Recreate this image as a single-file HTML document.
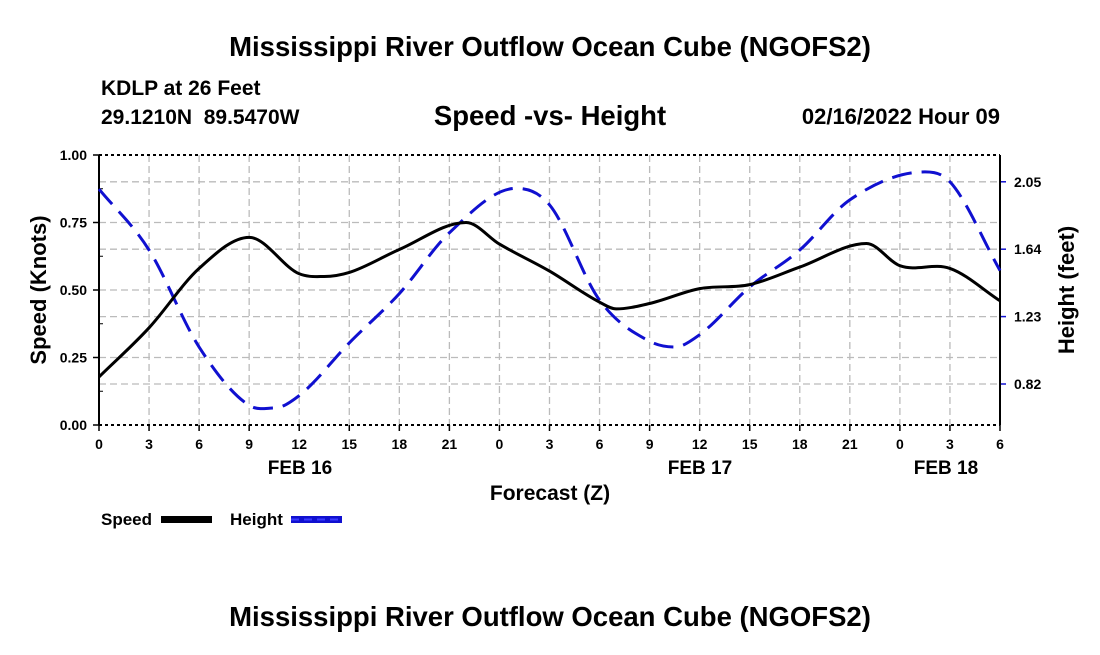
<!DOCTYPE html>
<html><head><meta charset="utf-8"><style>
body{margin:0;background:#fff;}
svg text{font-family:"Liberation Sans",Arial,sans-serif;font-weight:bold;fill:#000;white-space:pre;}
</style></head><body>
<svg id="chart" width="1100" height="650" viewBox="0 0 1100 650">
<text x="550" y="56" font-size="27.5" text-anchor="middle">Mississippi River Outflow Ocean Cube (NGOFS2)</text>
<text x="101" y="95" font-size="21">KDLP at 26 Feet</text>
<text x="101" y="124" font-size="21">29.1210N  89.5470W</text>
<text x="550" y="125" font-size="27.5" text-anchor="middle">Speed -vs- Height</text>
<text x="1000" y="124" font-size="22" text-anchor="end">02/16/2022 Hour 09</text>
<g id="grid"></g>
<g id="axes"></g>
<g id="series"></g>
<text x="46" y="290" font-size="22" text-anchor="middle" transform="rotate(-90 46 290)">Speed (Knots)</text>
<text x="1074" y="290" font-size="22" text-anchor="middle" transform="rotate(-90 1074 290)">Height (feet)</text>
<text x="550" y="500" font-size="21" text-anchor="middle">Forecast (Z)</text>
<text x="300" y="474" font-size="19" text-anchor="middle">FEB 16</text>
<text x="700" y="474" font-size="19" text-anchor="middle">FEB 17</text>
<text x="946" y="474" font-size="19" text-anchor="middle">FEB 18</text>
<g>
<text x="101" y="525" font-size="17">Speed</text>
<rect x="161" y="516" width="51" height="7" fill="#000"/>
<text x="230" y="525" font-size="17">Height</text>
<rect x="291" y="516" width="51" height="7" fill="#1010d0"/>
<line x1="291" y1="519.5" x2="342" y2="519.5" stroke="#3a3aff" stroke-width="2" stroke-dasharray="8,5"/>
</g>
<text x="550" y="626" font-size="27.5" text-anchor="middle">Mississippi River Outflow Ocean Cube (NGOFS2)</text>
</svg>
<script>
const hours=[0,3,6,9,12,15,18,21,24,27,30,33,36,39,42,45,48,51,54];
const tickLabels=["0","3","6","9","12","15","18","21","0","3","6","9","12","15","18","21","0","3","6"];
const speedTicks=[0,0.25,0.5,0.75,1.0];
const heightTicks=[0.82,1.23,1.64,2.05];
const speedHours=[0,3,6,9,12,13.5,15,18,22,24,27,30,31,33,36,39,42,46,48,51,54];
const speedVals=[0.178,0.36,0.58,0.695,0.56,0.55,0.565,0.65,0.75,0.67,0.57,0.455,0.43,0.45,0.505,0.52,0.585,0.672,0.59,0.58,0.46];
const heightHours=[0,3,6,9,10.5,12,15,18,21,25,27,30,33,34.5,36,39,42,45,49.5,51,54];
const heightVals=[2.006,1.635,1.045,0.69,0.674,0.75,1.07,1.37,1.74,2.01,1.91,1.33,1.08,1.045,1.12,1.41,1.635,1.94,2.11,2.05,1.51];

const L=99,R=1000,T=155,B=425;
const xs=h=>L+(R-L)*h/54;
const ys=v=>B-(B-T)*v;
const yh=v=>384-(v-0.82)*164.4;
const NS="http://www.w3.org/2000/svg";
function mk(tag,attrs,parent){const e=document.createElementNS(NS,tag);for(const k in attrs)e.setAttribute(k,attrs[k]);parent.appendChild(e);return e;}
const grid=document.getElementById('grid'),axes=document.getElementById('axes'),series=document.getElementById('series');
const gs={stroke:"#bbb","stroke-width":1.3,"stroke-dasharray":"7,4"};
hours.forEach((h,i)=>{
  if(i>0&&i<hours.length-1){const g=mk('line',Object.assign({x1:xs(h),x2:xs(h),y1:T,y2:B},gs),grid);
  
  }
  const t=mk('line',{x1:xs(h),x2:xs(h),y1:B,y2:B+6,stroke:"#000","stroke-width":1.5},axes);
  
  
  const lb=mk('text',{x:xs(h),y:B+24,"font-size":14,"text-anchor":"middle"},axes);lb.textContent=tickLabels[i];
  
  
});
speedTicks.forEach(v=>{
  if(v>0&&v<1){const g=mk('line',Object.assign({x1:L,x2:R,y1:ys(v),y2:ys(v)},gs),grid);
  
  }
  const t=mk('line',{x1:L-6,x2:L,y1:ys(v),y2:ys(v),stroke:"#000","stroke-width":1.5},axes);
  
  
  const lb=mk('text',{x:L-12,y:ys(v)+5,"font-size":14,"text-anchor":"end"},axes);lb.textContent=v.toFixed(2);
  
  
});
for(let v=0.125;v<1;v+=0.25){const t=mk('line',{x1:L,x2:L+4,y1:ys(v),y2:ys(v),stroke:"#000","stroke-width":1},axes);
  
  }
heightTicks.forEach(v=>{
  const g=mk('line',Object.assign({x1:L,x2:R,y1:yh(v),y2:yh(v)},gs),grid);
  
  
  const t=mk('line',{x1:R,x2:R+6,y1:yh(v),y2:yh(v),stroke:"#1010d0","stroke-width":1.5},axes);
  
  
  const lb=mk('text',{x:R+14,y:yh(v)+5,"font-size":14},axes);lb.textContent=v.toFixed(2);
  
  
});
[[L,T,R,T,"3,3"],[L,B,R,B,"3,3"]].forEach(a=>{const e=mk('line',{x1:a[0],y1:a[1],x2:a[2],y2:a[3],stroke:"#000","stroke-width":2,"stroke-dasharray":a[4]},axes);
  
  });
const la=mk('line',{x1:L,y1:T,x2:L,y2:B,stroke:"#000","stroke-width":2},axes);


const ra=mk('line',{x1:R,y1:T,x2:R,y2:B,stroke:"#000","stroke-width":2},axes);


function smooth(pts){
  const n=pts.length,m=[];
  for(let i=0;i<n;i++){
    if(i===0)m.push((pts[1][1]-pts[0][1])/(pts[1][0]-pts[0][0]));
    else if(i===n-1)m.push((pts[n-1][1]-pts[n-2][1])/(pts[n-1][0]-pts[n-2][0]));
    else{const a=(pts[i][1]-pts[i-1][1])/(pts[i][0]-pts[i-1][0]),b=(pts[i+1][1]-pts[i][1])/(pts[i+1][0]-pts[i][0]);
      m.push(a*b<=0?0:(a+b)/2);}
  }
  let d=`M${pts[0][0]},${pts[0][1]}`;
  for(let i=0;i<n-1;i++){const dx=(pts[i+1][0]-pts[i][0])/3;
    d+=` C${pts[i][0]+dx},${pts[i][1]+m[i]*dx} ${pts[i+1][0]-dx},${pts[i+1][1]-m[i+1]*dx} ${pts[i+1][0]},${pts[i+1][1]}`;}
  return d;}
const hp=mk('path',{d:smooth(heightHours.map((h,i)=>[xs(h),yh(heightVals[i])])),fill:"none",stroke:"#1010d0","stroke-width":3,"stroke-dasharray":"20,10"},series);


const sp=mk('path',{d:smooth(speedHours.map((h,i)=>[xs(h),ys(speedVals[i])])),fill:"none",stroke:"#000","stroke-width":3},series);


</script>
</body></html>
